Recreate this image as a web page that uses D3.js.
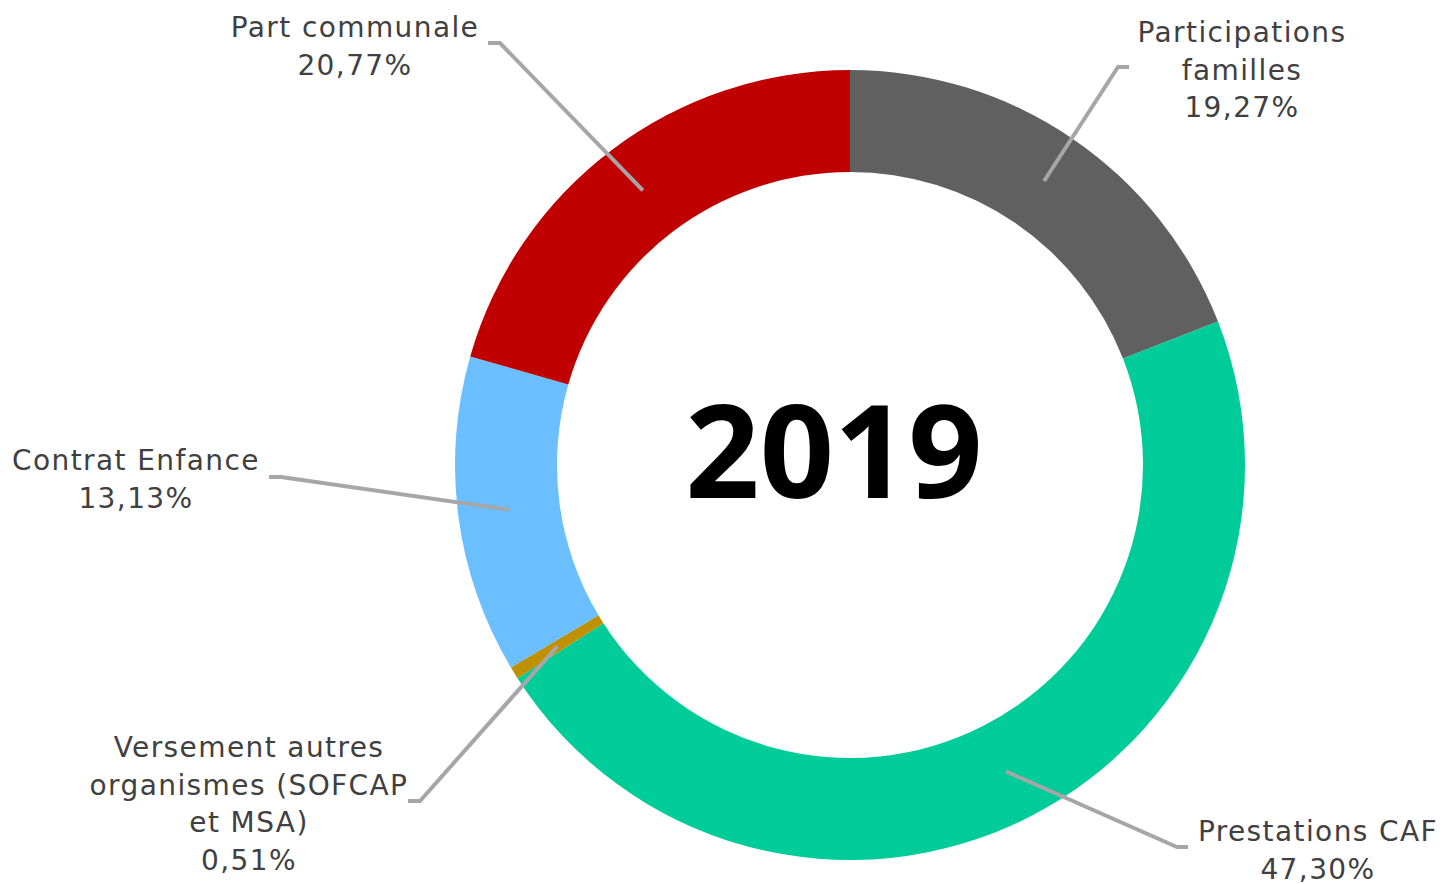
<!DOCTYPE html>
<html lang="fr">
<head>
  <meta charset="UTF-8">
  <title>2019</title>
  <script src="https://d3js.org/d3.v7.min.js"></script>
  <style>
    html, body {
      margin: 0;
      padding: 0;
      background: white;
      overflow: hidden;
    }
    svg { display: block; }
    .lbl {
      font-family: "DejaVu Sans", sans-serif;
      font-size: 28px;
      letter-spacing: 1.4px;
      fill: #404040;
    }
  </style>
</head>
<body>
<svg></svg>
<script>
const width = 1443;
const height = 884;

// data
const categories = [
  "Participations familles",
  "Prestations CAF",
  "Versement autres organismes (SOFCAP et MSA)",
  "Contrat Enfance",
  "Part communale"
];
const values = [19.27, 47.30, 0.51, 13.13, 20.77];
const pctLabels = ["19,27%", "47,30%", "0,51%", "13,13%", "20,77%"];
// how each label is broken into lines
const labelLines = [
  ["Participations", "familles"],
  ["Prestations CAF"],
  ["Versement autres", "organismes (SOFCAP", "et MSA)"],
  ["Contrat Enfance"],
  ["Part communale"]
];
const colors = ["#606060", "#00CC99", "#BF9000", "#6BBFFF", "#C00000"];
const centerTitle = "2019";

// label layout (centre x, first baseline, elbow, line end) - placed by hand like the original
const labelPos = [
  { x: 1242, y: 42,  elbow: [1118, 67],  end: [1129, 67] },
  { x: 1318, y: 841, elbow: [1177, 847], end: [1188, 847] },
  { x: 249,  y: 757, elbow: [420, 801],  end: [408, 801] },
  { x: 136,  y: 470, elbow: [281, 477],  end: [269, 477] },
  { x: 355,  y: 37,  elbow: [500, 43],   end: [488, 43] }
];

const cx = 850, cy = 465;
const outerR = 395, innerR = 293;
const lineH = 37.5;

const svg = d3.select("svg").attr("width", width).attr("height", height);

const pie = d3.pie().sort(null).value(d => d)(values);
const arc = d3.arc().innerRadius(innerR).outerRadius(outerR);

const g = svg.append("g").attr("transform", `translate(${cx},${cy})`);

g.selectAll("path.slice")
  .data(pie)
  .join("path")
  .attr("class", "slice")
  .attr("d", arc)
  .attr("fill", (d, i) => colors[i]);

// leader lines
svg.append("g")
  .selectAll("polyline")
  .data(pie)
  .join("polyline")
  .attr("fill", "none")
  .attr("stroke", "#A6A6A6")
  .attr("stroke-width", 4)
  .attr("points", (d, i) => {
    const c = arc.centroid(d);
    const p = labelPos[i];
    return [[cx + c[0], cy + c[1]], p.elbow, p.end].map(q => q.join(",")).join(" ");
  });

// labels
const lbl = svg.append("g")
  .selectAll("text")
  .data(pie)
  .join("text")
  .attr("class", "lbl")
  .attr("text-anchor", "middle")
  .attr("x", (d, i) => labelPos[i].x)
  .attr("y", (d, i) => labelPos[i].y);

lbl.each(function(d, i) {
  const t = d3.select(this);
  const lines = labelLines[i].concat([pctLabels[i]]);
  lines.forEach((s, k) => {
    t.append("tspan")
      .attr("x", labelPos[i].x)
      .attr("dy", k === 0 ? 0 : lineH)
      .text(s);
  });
});

// title in the hole
svg.append("text")
  .attr("x", 834)
  .attr("y", 498)
  .attr("text-anchor", "middle")
  .attr("font-family", "'Open Sans', sans-serif")
  .attr("font-weight", "bold")
  .attr("font-size", 130)
  .attr("fill", "#000")
  .text(centerTitle);
</script>
</body>
</html>
